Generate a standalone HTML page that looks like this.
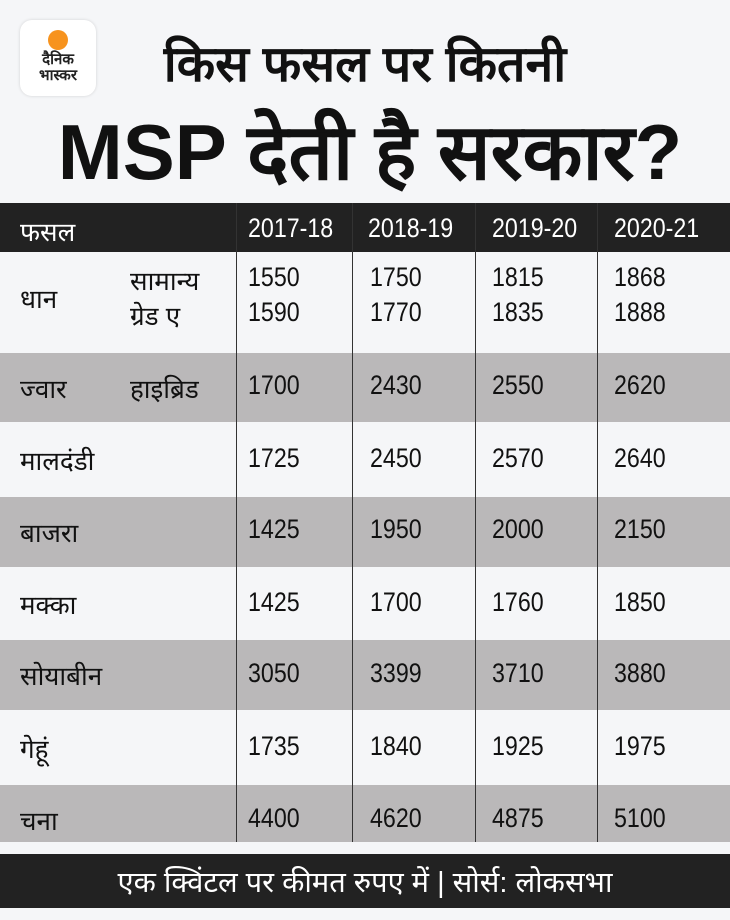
<!DOCTYPE html>
<html><head><meta charset="utf-8"><style>
*{margin:0;padding:0;box-sizing:border-box}
body{width:730px;height:920px;background:#f5f6f8;position:relative;overflow:hidden;font-family:"Liberation Sans","Noto Sans CJK SC",sans-serif}
.logo{position:absolute;left:20px;top:20px;width:76px;height:76px;background:#fff;border-radius:12px;box-shadow:0 0 3px rgba(0,0,0,.15);text-align:center}
.logo .dot{width:20px;height:20px;border-radius:50%;background:#f7931e;margin:10px auto 2px}
.logo .t{font-size:15px;font-weight:bold;line-height:16px;color:#222}
.t1{position:absolute;top:28px;left:115px;width:500px;text-align:center;font-size:50px;font-weight:bold;color:#111;white-space:nowrap}
.t2{position:absolute;top:96px;left:30px;width:680px;text-align:center;font-size:78px;font-weight:bold;color:#111;white-space:nowrap}
.row{position:absolute;left:0;width:730px}
.c{position:absolute;font-size:26px;color:#111;white-space:nowrap}
.n{font-size:27px;transform:scaleX(0.86);transform-origin:left center}
.vl{position:absolute;top:203px;height:639px;width:1px;background:#333}
</style></head><body>
<div class="logo"><div class="dot"></div><div class="t">दैनिक<br>भास्कर</div></div>
<div class="t1">किस फसल पर कितनी</div>
<div class="t2">MSP देती है सरकार?</div>

<div class="row" style="top:203px;height:49px;background:#222"></div>
<div class="row" style="top:353px;height:69px;background:#bab8b9"></div>
<div class="row" style="top:497px;height:70px;background:#bab8b9"></div>
<div class="row" style="top:640px;height:70px;background:#bab8b9"></div>
<div class="row" style="top:785px;height:57px;background:#bab8b9"></div>
<div class="vl" style="left:236px"></div>
<div class="vl" style="left:352px"></div>
<div class="vl" style="left:475px"></div>
<div class="vl" style="left:597px"></div>

<div class="c" style="left:20px;top:213px;color:#fff">फसल</div>
<div class="c n" style="left:248px;top:213px;color:#fff">2017-18</div>
<div class="c n" style="left:368px;top:213px;color:#fff">2018-19</div>
<div class="c n" style="left:492px;top:213px;color:#fff">2019-20</div>
<div class="c n" style="left:614px;top:213px;color:#fff">2020-21</div>

<div class="c" style="left:20px;top:280px">धान</div>
<div class="c" style="left:130px;top:262px">सामान्य</div>
<div class="c" style="left:130px;top:297px">ग्रेड ए</div>
<div class="c n" style="left:248px;top:262px">1550</div><div class="c n" style="left:370px;top:262px">1750</div><div class="c n" style="left:492px;top:262px">1815</div><div class="c n" style="left:614px;top:262px">1868</div>
<div class="c n" style="left:248px;top:297px">1590</div><div class="c n" style="left:370px;top:297px">1770</div><div class="c n" style="left:492px;top:297px">1835</div><div class="c n" style="left:614px;top:297px">1888</div>

<div class="c" style="left:20px;top:370px">ज्वार</div><div class="c" style="left:130px;top:370px">हाइब्रिड</div>
<div class="c n" style="left:248px;top:370px">1700</div><div class="c n" style="left:370px;top:370px">2430</div><div class="c n" style="left:492px;top:370px">2550</div><div class="c n" style="left:614px;top:370px">2620</div>

<div class="c" style="left:20px;top:442px">मालदंडी</div>
<div class="c n" style="left:248px;top:443px">1725</div><div class="c n" style="left:370px;top:443px">2450</div><div class="c n" style="left:492px;top:443px">2570</div><div class="c n" style="left:614px;top:443px">2640</div>

<div class="c" style="left:20px;top:514px">बाजरा</div>
<div class="c n" style="left:248px;top:514px">1425</div><div class="c n" style="left:370px;top:514px">1950</div><div class="c n" style="left:492px;top:514px">2000</div><div class="c n" style="left:614px;top:514px">2150</div>

<div class="c" style="left:20px;top:586px">मक्का</div>
<div class="c n" style="left:248px;top:587px">1425</div><div class="c n" style="left:370px;top:587px">1700</div><div class="c n" style="left:492px;top:587px">1760</div><div class="c n" style="left:614px;top:587px">1850</div>

<div class="c" style="left:20px;top:657px">सोयाबीन</div>
<div class="c n" style="left:248px;top:658px">3050</div><div class="c n" style="left:370px;top:658px">3399</div><div class="c n" style="left:492px;top:658px">3710</div><div class="c n" style="left:614px;top:658px">3880</div>

<div class="c" style="left:20px;top:730px">गेहूं</div>
<div class="c n" style="left:248px;top:731px">1735</div><div class="c n" style="left:370px;top:731px">1840</div><div class="c n" style="left:492px;top:731px">1925</div><div class="c n" style="left:614px;top:731px">1975</div>

<div class="c" style="left:20px;top:802px">चना</div>
<div class="c n" style="left:248px;top:803px">4400</div><div class="c n" style="left:370px;top:803px">4620</div><div class="c n" style="left:492px;top:803px">4875</div><div class="c n" style="left:614px;top:803px">5100</div>

<div class="row" style="top:854px;height:54px;background:#222"></div>
<div class="c" style="left:0;width:730px;text-align:center;top:862px;color:#fff;font-size:29px">एक क्विंटल पर कीमत रुपए में | सोर्स: लोकसभा</div>
</body></html>
